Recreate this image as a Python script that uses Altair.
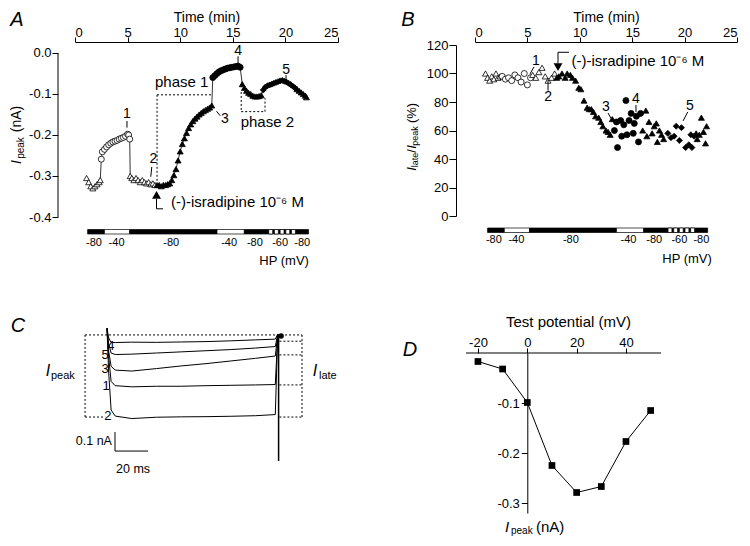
import altair as alt
import pandas as pd

FONT = "Liberation Sans"
MINUS_FIX = "replace(datum.label, '\u2212', '-')"

# ---------------- Panel A : I_peak (nA) vs time (min) ----------------
A_ot1_t = [1.1, 1.3, 1.5, 1.7, 1.9, 2.1, 2.3, 2.4]
A_ot1_v = [-0.305, -0.315, -0.325, -0.33, -0.325, -0.32, -0.315, -0.31]
A_oc_t = [2.5, 2.6, 2.8, 3.0, 3.2, 3.4, 3.6, 3.8, 4.0, 4.2, 4.4, 4.6, 4.8, 5.0, 5.1, 5.2]
A_oc_v = [-0.259, -0.241, -0.235, -0.229, -0.224, -0.22, -0.217, -0.215, -0.213, -0.21,
          -0.208, -0.206, -0.203, -0.198, -0.2, -0.21]
A_ot2_t = [5.25, 5.4, 5.6, 5.8, 6.0, 6.2, 6.4, 6.6, 6.8, 7.0, 7.2, 7.4, 7.6]
A_ot2_v = [-0.300, -0.305, -0.31, -0.305, -0.31, -0.315, -0.31, -0.315, -0.318, -0.315,
           -0.32, -0.318, -0.322]
A_ft1_t = [7.8, 8.0, 8.2, 8.4, 8.6, 8.8, 9.0, 9.2, 9.4, 9.6, 9.8, 10.0, 10.2, 10.4, 10.6,
           10.8, 11.0, 11.2, 11.4, 11.6, 11.8, 12.0, 12.2, 12.4, 12.6, 12.8, 13.0]
A_ft1_v = [-0.322, -0.322, -0.325, -0.322, -0.322, -0.32, -0.318, -0.31, -0.298, -0.283,
           -0.262, -0.24, -0.222, -0.208, -0.195, -0.183, -0.174, -0.166, -0.16, -0.155,
           -0.15, -0.146, -0.142, -0.139, -0.136, -0.133, -0.128]
A_fc_t = [13.1, 13.3, 13.5, 13.7, 13.9, 14.1, 14.3, 14.5, 14.7, 14.9, 15.1, 15.3, 15.5, 15.7]
A_fc_v = [-0.06, -0.055, -0.05, -0.046, -0.043, -0.041, -0.039, -0.037, -0.036, -0.035,
          -0.034, -0.033, -0.032, -0.035]
A_ft2_t = [15.9, 16.1, 16.3, 16.5, 16.7, 16.9, 17.1, 17.3, 17.5, 17.7]
A_ft2_v = [-0.076, -0.085, -0.092, -0.097, -0.1, -0.104, -0.106, -0.106, -0.105, -0.103]
A_fd_t = [17.9, 18.1, 18.3, 18.5, 18.7, 18.9, 19.1, 19.3, 19.5, 19.7, 19.9, 20.1, 20.3,
          20.5, 20.7, 20.9]
A_fd_v = [-0.09, -0.083, -0.08, -0.078, -0.076, -0.074, -0.072, -0.07, -0.068, -0.067,
          -0.069, -0.071, -0.074, -0.077, -0.081, -0.085]
A_ft3_t = [21.1, 21.3, 21.5, 21.7, 21.9, 22.0]
A_ft3_v = [-0.088, -0.092, -0.096, -0.1, -0.104, -0.108]

# ---------------- Panel B : I_late / I_peak (%) vs time ----------------
B_ot1_t = [1.0, 1.2, 1.4, 1.6, 1.8, 2.0, 2.2, 2.4]
B_ot1_v = [100, 97, 95, 98, 96, 100, 97, 98]
B_oc_t = [2.6, 2.9, 3.2, 3.5, 3.8, 4.1, 4.4, 4.7, 5.0, 5.3]
B_oc_v = [98, 96, 97, 95, 99, 97, 94, 100, 92, 97]
B_ot2_t = [5.5, 5.8, 6.1, 6.4, 6.7, 6.97, 7.3, 7.6]
B_ot2_v = [99, 97, 101, 104, 98, 95, 97, 100]
B_ft1_t = [7.8, 8.0, 8.3, 8.6, 8.8, 9.1, 9.3, 9.6, 9.9, 10.1, 10.4, 10.7, 10.9, 11.1, 11.3,
           11.5, 11.8, 12.0, 12.2, 12.5, 12.7, 12.9, 13.1]
B_ft1_v = [97, 98, 100, 97, 100, 99, 97, 95, 90, 89, 81, 76, 75, 75, 73, 70, 69, 66, 63,
           60, 59, 57, 68]
B_fc_t = [13.3, 13.5, 13.6, 13.9, 14.0, 14.2, 14.4, 14.5, 14.7, 14.9, 15.1, 15.2, 15.4, 15.6, 15.8]
B_fc_v = [60, 66, 48, 67, 56, 64, 81, 57, 67, 72, 58, 65, 70, 52, 72]
B_ft2_t = [16.0, 16.3, 16.4, 16.6, 16.9, 17.1, 17.3, 17.4, 17.6, 17.8, 18.0]
B_ft2_v = [60, 74, 56, 66, 58, 63, 65, 52, 60, 57, 54]
B_fd_t = [18.4, 18.7, 19.0, 19.2, 19.5, 19.7, 20.1, 20.4, 20.6, 20.7, 20.9]
B_fd_v = [58, 55, 56, 63, 53, 62, 48, 50, 57, 48, 56]
B_ft3_t = [21.1, 21.2, 21.4, 21.6, 21.8, 22.0, 22.1]
B_ft3_v = [58, 54, 57, 69, 59, 51, 63]

# Holding potential protocol (shared by A and B)
HP_BOUNDS = [1.2, 2.8, 5.2, 13.5, 16.1, 18.3, 21.0, 22.2]
HP_VALUES = ["-80", "-40", "-80", "-40", "-80", "-60", "-80"]
HP_LABEL_T = [1.8, 3.95, 9.15, 14.65, 17.1, 19.5, 21.6]

# ---------------- Panel C : current traces (ms, nA) ----------------
C_t = [0, 1, 2.5, 5, 15, 30, 45, 60, 75, 90, 102, 103.5]
C_traces = {
    "4": [0.03, -0.02, -0.045, -0.045, -0.043, -0.044, -0.042, -0.04, -0.036, -0.031, -0.027, 0.0],
    "5": [0.03, -0.05, -0.1, -0.108, -0.106, -0.1, -0.094, -0.088, -0.082, -0.074, -0.066, 0.0],
    "3": [0.03, -0.09, -0.17, -0.19, -0.195, -0.182, -0.168, -0.156, -0.142, -0.128, -0.116, 0.0],
    "1": [0.03, -0.12, -0.25, -0.272, -0.278, -0.275, -0.275, -0.272, -0.27, -0.268, -0.266, 0.0],
    "2": [0.03, -0.2, -0.4, -0.432, -0.445, -0.438, -0.436, -0.435, -0.433, -0.43, -0.424, 0.0],
}
C_label_pos = {"4": (2.4, -0.063), "5": (-1.2, -0.111), "3": (-1.2, -0.184),
               "1": (-0.6, -0.274), "2": (0.6, -0.432)}

# ---------------- Panel D : I-V relation ----------------
D_mv = [-20, -10, 0, 10, 20, 30, 40, 50]
D_ipeak = [-0.017, -0.032, -0.099, -0.225, -0.279, -0.267, -0.177, -0.115]

# ---------------- helpers ----------------
ONE = pd.DataFrame({"k": [0]})
SERIES = ["open_tri", "open_circ", "tri", "circ", "diam"]
SHAPES = ["triangle-up", "circle", "triangle-up", "circle", "diamond"]
FILLS = ["white", "white", "black", "black", "black"]


def series_df(parts):
    rows, n = [], 0
    for key, ts, vs in parts:
        for t, v in zip(ts, vs):
            rows.append({"n": n, "t": t, "v": v, "s": key})
            n += 1
    return pd.DataFrame(rows)


def ptext(s, px, py, size=13, angle=0, italic=False, align="center", baseline="middle"):
    kw = dict(text=s, font=FONT, fontSize=size, align=align, baseline=baseline,
              color="black", fontStyle="italic" if italic else "normal")
    if angle:
        kw["angle"] = angle
    return alt.Chart(ONE).mark_text(**kw).encode(x=alt.value(px), y=alt.value(py))


class Panel:
    def __init__(self, xs, ys, xa, ya):
        self.xs, self.ys, self.xa, self.ya = xs, ys, xa, ya

    def X(self, f):
        return alt.X(f, scale=self.xs, axis=self.xa)

    def Y(self, f):
        return alt.Y(f, scale=self.ys, axis=self.ya)

    def XD(self, v):
        return alt.XDatum(v, scale=self.xs, axis=self.xa)

    def YD(self, v):
        return alt.YDatum(v, scale=self.ys, axis=self.ya)

    def text(self, s, xv, yv, size=14, align="center", baseline="middle"):
        return alt.Chart(ONE).mark_text(
            text=s, font=FONT, fontSize=size, align=align, baseline=baseline, color="black"
        ).encode(x=self.XD(xv), y=self.YD(yv))

    def segs(self, rows, dash=None, width=0.8):
        df = pd.DataFrame(rows, columns=["x", "y", "x2", "y2"])
        kw = dict(color="black", strokeWidth=width)
        if dash:
            kw["strokeDash"] = dash
        return alt.Chart(df).mark_rule(**kw).encode(
            x=self.X("x:Q"), x2="x2:Q", y=self.Y("y:Q"), y2="y2:Q")

    def points(self, df, size=36):
        return alt.Chart(df).mark_point(filled=True, stroke="black", strokeWidth=0.8,
                                        opacity=1, size=size).encode(
            x=self.X("t:Q"), y=self.Y("v:Q"),
            shape=alt.Shape("s:N", scale=alt.Scale(domain=SERIES, range=SHAPES), legend=None),
            fill=alt.Fill("s:N", scale=alt.Scale(domain=SERIES, range=FILLS), legend=None))

    def symbol(self, shape, xv, yv, size):
        return alt.Chart(ONE).mark_point(shape=shape, filled=True, color="black",
                                         size=size, opacity=1).encode(
            x=self.XD(xv), y=self.YD(yv))

    def hp(self, bar_y, lab_y, title_y, title_t):
        rows = []
        for i, val in enumerate(HP_VALUES):
            rows.append({"a": HP_BOUNDS[i], "b": HP_BOUNDS[i + 1],
                         "f": "white" if val == "-40" else "black"})
        lo, hi = HP_BOUNDS[5], HP_BOUNDS[6]
        step = (hi - lo) / 5.0
        for k in range(5):  # checkered look of the -60 mV segment (style only)
            rows.append({"a": lo + k * step + 0.12, "b": lo + (k + 1) * step - 0.05, "f": "white"})
        df = pd.DataFrame(rows)
        bar = alt.Chart(df).mark_rect(stroke="black", strokeWidth=0.7).encode(
            x=self.X("a:Q"), x2="b:Q",
            y=alt.value(bar_y), y2=alt.value(bar_y + 4.5),
            fill=alt.Fill("f:N", scale=None))
        lab = alt.Chart(pd.DataFrame({"t": HP_LABEL_T, "l": HP_VALUES})).mark_text(
            font=FONT, fontSize=11, color="black", baseline="middle").encode(
            x=self.X("t:Q"), y=alt.value(lab_y), text="l:N")
        ttl = alt.Chart(ONE).mark_text(text="HP (mV)", font=FONT, fontSize=13, align="right",
                                       baseline="middle", color="black").encode(
            x=self.XD(title_t), y=alt.value(title_y))
        return [bar, lab, ttl]


def time_axis():
    return alt.Axis(orient="top", values=[0, 5, 10, 15, 20, 25], title="Time (min)",
                    offset=3, tickSize=5, labelPadding=-2.5, titleBaseline="alphabetic",
                    titleY=-20.7, titleFontSize=14)

# ================= Panel A =================
PA = Panel(alt.Scale(domain=[0, 25], nice=False, zero=False),
           alt.Scale(domain=[-0.4, 0.0195], nice=False, zero=False),
           time_axis(),
           alt.Axis(orient="left", values=[-0.4, -0.3, -0.2, -0.1, 0.0], format=".1f",
                    labelExpr=MINUS_FIX, title=None, offset=17, domain=False,
                    tickSize=6, labelPadding=1))
a_df = series_df([("open_tri", A_ot1_t, A_ot1_v), ("open_circ", A_oc_t, A_oc_v),
                  ("open_tri", A_ot2_t, A_ot2_v), ("tri", A_ft1_t, A_ft1_v),
                  ("circ", A_fc_t, A_fc_v), ("tri", A_ft2_t, A_ft2_v),
                  ("diam", A_fd_t, A_fd_v), ("tri", A_ft3_t, A_ft3_v)])

a_layers = [alt.Chart(a_df).mark_line(color="black", strokeWidth=0.8).encode(
    x=PA.X("t:Q"), y=PA.Y("v:Q"), order="n:Q")]
a_layers.append(alt.Chart(ONE).mark_rule(color="black", strokeWidth=1).encode(
    x=alt.value(-17), y=PA.YD(-0.4), y2=alt.Y2Datum(0.0)))
a_layers.append(PA.points(a_df))
a_layers.append(PA.segs([[7.8, -0.102, 13.02, -0.102], [7.8, -0.102, 7.8, -0.313],
                         [15.8, -0.095, 15.8, -0.143], [15.8, -0.143, 18.06, -0.143],
                         [18.06, -0.143, 18.06, -0.11]], dash=[2, 2], width=1))
a_layers.append(PA.segs([[4.94, -0.166, 4.94, -0.182], [7.3, -0.278, 7.2, -0.302],
                         [13.45, -0.142, 13.8, -0.153], [15.5, -0.008, 15.5, -0.025],
                         [20.06, -0.054, 20.06, -0.07],
                         [7.75, -0.356, 7.75, -0.38], [7.75, -0.38, 8.37, -0.38]], width=1))
for s, t, v in [("1", 4.94, -0.149), ("2", 7.46, -0.259), ("3", 14.26, -0.161),
                ("4", 15.5, 0.004), ("5", 20.06, -0.041)]:
    a_layers.append(PA.text(s, t, v))
a_layers.append(PA.text("phase 1", 7.6, -0.071, size=15, align="left"))
a_layers.append(PA.text("phase 2", 15.75, -0.168, size=15, align="left"))
a_layers.append(PA.symbol("triangle-up", 7.75, -0.346, 80))
a_layers.append(PA.text("(-)-isradipine 10\u207b\u2076 M", 9.13, -0.363, size=15, align="left"))
a_layers += PA.hp(184.5, 197.5, 216, 22.24)
a_layers.append(ptext("A", -58, -25, size=20, italic=True))
a_layers.append(ptext("I", -58, 117, size=14, angle=270, italic=True))
a_layers.append(ptext("peak", -54, 103, size=10, angle=270))
a_layers.append(ptext("(nA)", -58, 74, size=14, angle=270))
panel_a = alt.layer(*a_layers).properties(width=263, height=172)

# ================= Panel B =================
PB = Panel(alt.Scale(domain=[0, 25], nice=False, zero=False),
           alt.Scale(domain=[0, 120], nice=False, zero=False),
           time_axis(),
           alt.Axis(orient="left", values=[0, 20, 40, 60, 80, 100, 120], title=None,
                    offset=19, tickSize=7, labelPadding=1))
b_df = series_df([("open_tri", B_ot1_t, B_ot1_v), ("open_circ", B_oc_t, B_oc_v),
                  ("open_tri", B_ot2_t, B_ot2_v), ("tri", B_ft1_t, B_ft1_v),
                  ("circ", B_fc_t, B_fc_v), ("tri", B_ft2_t, B_ft2_v),
                  ("diam", B_fd_t, B_fd_v), ("tri", B_ft3_t, B_ft3_v)])
b_layers = [PB.points(b_df)]
b_layers.append(PB.segs([[5.63, 104.6, 5.25, 99.7], [6.97, 88, 6.97, 95.5],
                         [12.69, 72.3, 13.07, 67.4], [15.36, 77.9, 15.36, 73],
                         [20.3, 73, 19.85, 66.7],
                         [7.92, 107, 7.92, 114.9], [7.92, 114.9, 8.97, 114.9]], width=1))
for s, t, v in [("1", 5.8, 108.8), ("2", 6.97, 83.5), ("3", 12.5, 76.5),
                ("4", 15.36, 82), ("5", 20.5, 77)]:
    b_layers.append(PB.text(s, t, v))
b_layers.append(PB.symbol("triangle-down", 7.92, 104.5, 80))
b_layers.append(PB.text("(-)-isradipine 10\u207b\u2076 M", 9.2, 108.6, size=15, align="left"))
b_layers += PB.hp(183, 195, 214, 22.6)
b_layers.append(ptext("B", -67, -25, size=20, italic=True))
b_layers.append(ptext("I", -63, 124, size=13, angle=270, italic=True))
b_layers.append(ptext("late", -60, 115, size=9, angle=270))
b_layers.append(ptext("/", -63, 106, size=13, angle=270))
b_layers.append(ptext("I", -63, 102, size=13, angle=270, italic=True))
b_layers.append(ptext("peak", -60, 91, size=9, angle=270))
b_layers.append(ptext("(%)", -63, 68, size=13, angle=270))
panel_b = alt.layer(*b_layers).properties(width=262, height=171)

# ================= Panel C =================
PC = Panel(alt.Scale(domain=[-19.39, 134.55], nice=False, zero=False),
           alt.Scale(domain=[-0.942, -0.1], nice=False, zero=False), None, None)
c_rows = []
for k, vals in C_traces.items():
    for t, v in zip(C_t, vals):
        c_rows.append({"t": t, "v": v, "k": k})
c_df = pd.DataFrame(c_rows)
c_layers = [alt.Chart(c_df).mark_line(color="black", strokeWidth=1).encode(
    x=PC.X("t:Q"), y=PC.Y("v:Q"), detail="k:N", order="t:Q")]
c_layers.append(PC.segs([[104, 0.0, 104, -0.668]], width=1.5))
c_layers.append(PC.symbol("circle", 105.5, -0.01, 30))
c_layers.append(PC.segs([[-13.3, -0.005, 118.2, -0.005], [-13.3, -0.005, -13.3, -0.437],
                         [-13.3, -0.437, -1, -0.437], [104.5, -0.437, 118.2, -0.437],
                         [118.2, -0.005, 118.2, -0.437], [104.5, -0.038, 118.2, -0.038],
                         [104.5, -0.11, 118.2, -0.11], [104.5, -0.268, 118.2, -0.268]],
                        dash=[2, 2], width=1))
c_layers.append(PC.segs([[4.85, -0.516, 4.85, -0.616], [4.85, -0.616, 24.85, -0.616]], width=1))
for k, (t, v) in C_label_pos.items():
    c_layers.append(PC.text(k, t, v, size=13))
c_layers.append(PC.text("0.1 nA", 3.0, -0.563, size=12.5, align="right"))
c_layers.append(PC.text("20 ms", 15.8, -0.71, size=12.5))
c_layers.append(ptext("C", -57, -27, size=20, italic=True))
c_layers.append(ptext("I", -27, 18, size=16, italic=True))
c_layers.append(ptext("peak", -24, 23, size=11, align="left"))
c_layers.append(ptext("I", 240, 18, size=16, italic=True))
c_layers.append(ptext("late", 244, 23, size=11, align="left"))
panel_c = alt.layer(*c_layers).properties(width=254, height=160)

# ================= Panel D =================
PD = Panel(alt.Scale(domain=[-21.2, 54.2], nice=False, zero=False),
           alt.Scale(domain=[-0.32, 0], nice=False, zero=False),
           alt.Axis(orient="top", values=[-20, 0, 20, 40], title="Test potential (mV)",
                    format="d", labelExpr=MINUS_FIX, tickSize=5, labelPadding=-1,
                    domain=False, titleBaseline="alphabetic", titleY=-26.5, titleFontSize=15),
           alt.Axis(orient="left", values=[-0.1, -0.2, -0.3], format=".1f",
                    labelExpr=MINUS_FIX, title=None, offset=-52.3, tickSize=6,
                    labelPadding=2))
d_df = pd.DataFrame({"mv": D_mv, "i": D_ipeak})
d_layers = [alt.Chart(d_df).mark_line(
    color="black", strokeWidth=1,
    point=alt.OverlayMarkDef(shape="square", filled=True, color="black", size=45, opacity=1)
).encode(x=PD.X("mv:Q"), y=PD.Y("i:Q"))]
d_layers.append(PD.segs([[-24.85, 0.0, 54.2, 0.0]], width=1))
d_layers.append(ptext("D", -65, -3, size=20, italic=True))
d_layers.append(ptext("I", 32, 174, size=15, italic=True))
d_layers.append(ptext("peak", 36, 178, size=10, align="left"))
d_layers.append(ptext("(nA)", 61, 174, size=15, align="left"))
panel_d = alt.layer(*d_layers).properties(width=186, height=160)

chart = alt.concat(panel_a, panel_b, panel_c, panel_d, columns=2,
                   spacing={"row": 136, "column": 137}, align="all", bounds="flush").properties(
    padding={"left": 2, "top": 2, "right": 0, "bottom": 0}, background="white"
).configure_view(stroke=None).configure_axis(
    labelFont=FONT, titleFont=FONT, labelFontSize=13, titleFontSize=15,
    labelColor="black", titleColor="black", domainColor="black", tickColor="black",
    grid=False, titleFontWeight="normal", domainWidth=1, tickWidth=1
)

chart.save("out.html", embed_options={"renderer": "svg", "actions": False})
